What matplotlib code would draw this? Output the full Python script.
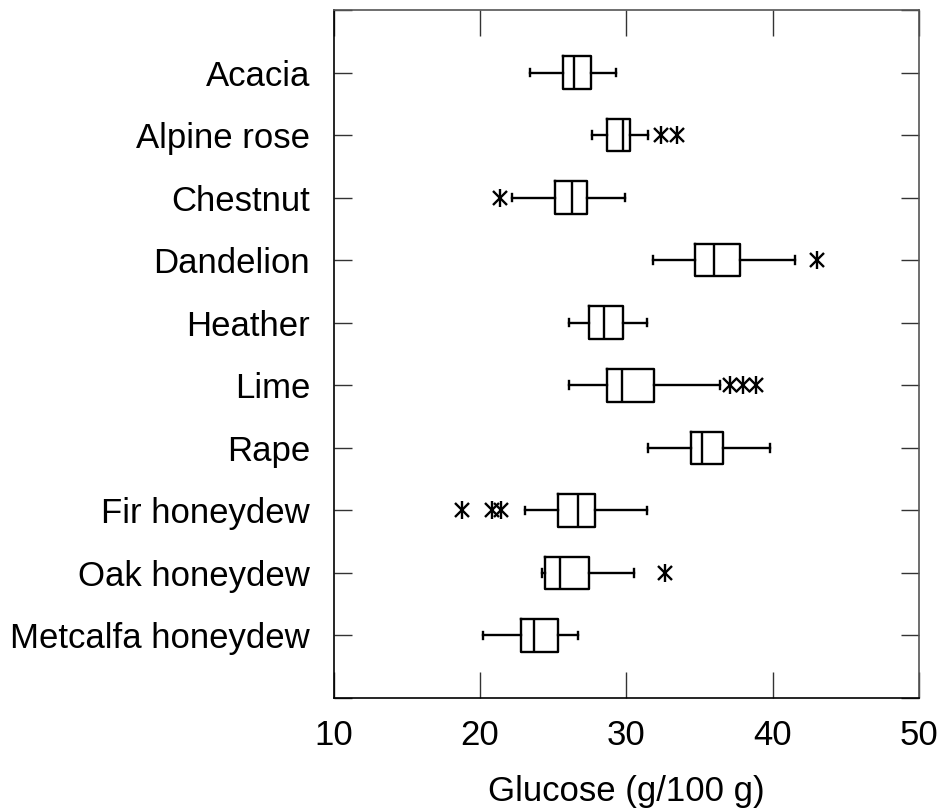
import numpy as np
import matplotlib
matplotlib.use('Agg')
import matplotlib.pyplot as plt

plt.rcParams["font.family"] = ["Liberation Sans", "DejaVu Sans"]

# honey types, top to bottom
labels = ["Acacia", "Alpine rose", "Chestnut", "Dandelion", "Heather", "Lime",
          "Rape", "Fir honeydew", "Oak honeydew", "Metcalfa honeydew"]
whislo = [23.4, 27.65, 22.2, 31.85, 26.1, 26.1, 31.5, 23.1, 24.2, 20.2]
q1 = [25.65, 28.7, 25.15, 34.7, 27.45, 28.7, 34.4, 25.35, 24.45, 22.8]
med = [26.45, 29.8, 26.25, 36.0, 28.45, 29.7, 35.2, 26.7, 25.45, 23.7]
q3 = [27.6, 30.25, 27.3, 37.8, 29.8, 31.9, 36.6, 27.85, 27.45, 25.3]
whishi = [29.3, 31.5, 29.9, 41.5, 31.4, 36.4, 39.85, 31.4, 30.5, 26.7]
fliers = [[], [32.4, 33.45], [21.35], [43.05], [], [37.05, 37.95, 38.85],
          [], [18.75, 20.8, 21.45], [32.65], []]

stats = []
for i in range(len(labels)):
    stats.append(dict(label=labels[i], whislo=whislo[i], q1=q1[i], med=med[i],
                      q3=q3[i], whishi=whishi[i], fliers=[]))

pos = np.arange(1, len(labels) + 1)

fig = plt.figure(figsize=(9.43, 8.10), dpi=100)
ax = fig.add_axes([0.354, 0.1383, 0.6205, 0.8494])

lw = 1.7
ax.bxp(stats, positions=pos, vert=False, widths=0.52, capwidths=0.12,
       showfliers=False,
       boxprops=dict(color='black', linewidth=lw),
       medianprops=dict(color='black', linewidth=lw),
       whiskerprops=dict(color='black', linewidth=lw),
       capprops=dict(color='black', linewidth=lw))

# outliers drawn as asterisks (x plus vertical bar)
for p, fl in zip(pos, fliers):
    if fl:
        yy = np.full(len(fl), p)
        ax.plot(fl, yy, ls='none', marker='x', ms=10.5, mew=1.7, color='black')
        ax.plot(fl, yy, ls='none', marker='|', ms=13, mew=1.7, color='black')

ax.set_xlim(10, 50)
ax.set_ylim(11, 0)
ax.set_xticks([10, 20, 30, 40, 50])
ax.set_yticks([0] + list(pos) + [11])
ax.set_yticklabels([""] + labels + [""])

ax.tick_params(axis='both', direction='in', top=True, right=True,
               labelsize=25, width=1.0, color='#333333')
ax.tick_params(axis='y', length=13, pad=17)
ax.tick_params(axis='x', length=19, pad=15)

for s in ax.spines.values():
    s.set_linewidth(1.2)
    s.set_color('#555555')
ax.spines['left'].set_color('black')
ax.spines['bottom'].set_color('black')

ax.set_xlabel("Glucose (g/100 g)", fontsize=25, labelpad=17)

fig.savefig("out.png", dpi=100)
